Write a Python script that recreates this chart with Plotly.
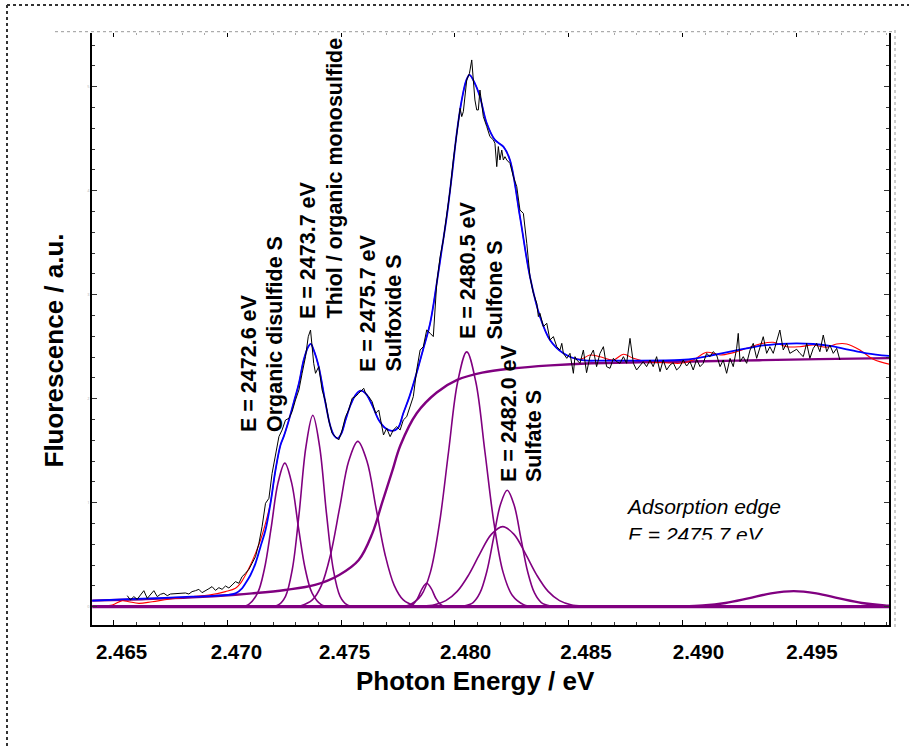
import plotly.graph_objects as go

# ---------------- data (energies in eV, intensities in a.u.) ----------------
data_E = [2465.59, 2465.73, 2465.88, 2466.03, 2466.17, 2466.32, 2466.47, 2466.61, 2466.76, 2466.91,
          2467.05, 2467.20, 2467.35, 2467.49, 2467.71, 2467.93, 2468.15, 2468.30, 2468.44, 2468.59,
          2468.74, 2468.88, 2469.03, 2469.18, 2469.32, 2469.47, 2469.62, 2469.76, 2469.91, 2470.06,
          2470.20, 2470.35, 2470.50, 2470.64, 2470.79, 2470.94, 2471.08, 2471.23, 2471.38, 2471.52,
          2471.67, 2471.82, 2471.96, 2472.11, 2472.26, 2472.40, 2472.55, 2472.70, 2472.84, 2472.99,
          2473.14, 2473.28, 2473.43, 2473.55, 2473.65, 2473.72, 2473.79, 2473.87, 2474.01, 2474.16,
          2474.31, 2474.45, 2474.60, 2474.75, 2474.89, 2474.97, 2475.04, 2475.19, 2475.33, 2475.48,
          2475.63, 2475.77, 2475.92, 2475.99, 2476.07, 2476.21, 2476.36, 2476.51, 2476.65, 2476.78,
          2476.86, 2477.00, 2477.15, 2477.29, 2477.44, 2477.59, 2477.73, 2477.88, 2478.03, 2478.17,
          2478.32, 2478.47, 2478.61, 2478.76, 2478.91, 2479.05, 2479.20, 2479.35, 2479.49, 2479.64,
          2479.79, 2479.93, 2480.08, 2480.23, 2480.30, 2480.37, 2480.52, 2480.64, 2480.74, 2480.81,
          2480.88, 2480.96, 2481.03, 2481.10, 2481.18, 2481.25, 2481.40, 2481.54, 2481.69, 2481.76,
          2481.84, 2481.91, 2481.98, 2482.06, 2482.13, 2482.20, 2482.28, 2482.42, 2482.57, 2482.72,
          2482.86, 2483.01, 2483.16, 2483.30, 2483.45, 2483.60, 2483.67, 2483.74, 2483.89, 2484.04,
          2484.18, 2484.33, 2484.48, 2484.62, 2484.70, 2484.77, 2484.92, 2485.06, 2485.21, 2485.28,
          2485.36, 2485.50, 2485.65, 2485.79, 2485.94, 2486.09, 2486.23, 2486.38, 2486.53, 2486.67,
          2486.82, 2486.97, 2487.11, 2487.26, 2487.41, 2487.55, 2487.70, 2487.85, 2487.99, 2488.14,
          2488.28, 2488.43, 2488.58, 2488.72, 2488.87, 2489.02, 2489.16, 2489.31, 2489.46, 2489.60,
          2489.75, 2489.90, 2490.04, 2490.19, 2490.34, 2490.48, 2490.63, 2490.78, 2490.92, 2491.07,
          2491.22, 2491.36, 2491.51, 2491.66, 2491.80, 2491.95, 2492.10, 2492.24, 2492.39, 2492.46,
          2492.54, 2492.68, 2492.83, 2492.98, 2493.12, 2493.27, 2493.41, 2493.56, 2493.71, 2493.85,
          2494.00, 2494.15, 2494.29, 2494.44, 2494.59, 2494.73, 2494.88, 2495.03, 2495.17, 2495.32,
          2495.47, 2495.61, 2495.76, 2495.91, 2496.05, 2496.20, 2496.35, 2496.49, 2496.64, 2496.79,
          2496.93]
data_I = [0.106, 0.065, 0.097, 0.071, 0.112, 0.154, 0.080, 0.112, 0.154, 0.097,
          0.119, 0.129, 0.106, 0.122, 0.125, 0.129, 0.132, 0.122, 0.145, 0.154,
          0.167, 0.135, 0.151, 0.173, 0.193, 0.157, 0.183, 0.167, 0.199, 0.180,
          0.209, 0.241, 0.225, 0.289, 0.321, 0.359, 0.417, 0.481, 0.609, 0.770,
          0.994, 1.042, 1.282, 1.443, 1.635, 1.699, 1.795, 1.811, 1.875, 1.988,
          2.084, 2.244, 2.404, 2.596, 2.660, 2.500, 2.340, 2.244, 2.308, 2.084,
          1.971, 1.795, 1.667, 1.635, 1.603, 1.651, 1.699, 1.827, 1.891, 2.004,
          2.020, 2.052, 2.084, 2.100, 2.052, 2.020, 1.971, 1.859, 1.891, 1.760,
          1.651, 1.715, 1.635, 1.699, 1.731, 1.699, 1.795, 1.827, 1.923, 2.020,
          2.276, 2.468, 2.500, 2.661, 2.629, 2.597, 3.109, 3.366, 3.526, 3.750,
          4.007, 4.295, 4.520, 4.792, 4.712, 4.760, 5.065, 5.129, 5.257, 5.032,
          4.872, 4.776, 4.776, 4.968, 4.840, 4.712, 4.616, 4.520, 4.488, 4.456,
          4.231, 4.424, 4.295, 4.391, 4.295, 4.327, 4.295, 4.263, 4.135, 4.039,
          3.814, 3.782, 3.494, 3.173, 3.013, 2.917, 2.789, 2.821, 2.693, 2.725,
          2.564, 2.597, 2.500, 2.468, 2.532, 2.436, 2.388, 2.436, 2.244, 2.404,
          2.372, 2.340, 2.468, 2.250, 2.404, 2.468, 2.308, 2.436, 2.500, 2.308,
          2.292, 2.388, 2.356, 2.340, 2.404, 2.340, 2.580, 2.340, 2.276, 2.324,
          2.356, 2.308, 2.372, 2.308, 2.404, 2.260, 2.372, 2.276, 2.324, 2.346,
          2.276, 2.308, 2.372, 2.314, 2.356, 2.276, 2.378, 2.308, 2.340, 2.436,
          2.404, 2.452, 2.420, 2.308, 2.372, 2.244, 2.388, 2.308, 2.484, 2.628,
          2.356, 2.404, 2.340, 2.468, 2.532, 2.388, 2.484, 2.596, 2.436, 2.500,
          2.436, 2.564, 2.660, 2.468, 2.532, 2.436, 2.452, 2.475, 2.436, 2.404,
          2.532, 2.388, 2.484, 2.532, 2.452, 2.612, 2.452, 2.516, 2.436, 2.484,
          2.372]

fit_E = [2464.05, 2466.25, 2468.44, 2469.91, 2470.35, 2470.64, 2470.79, 2471.01, 2471.23, 2471.45,
         2471.67, 2471.89, 2472.11, 2472.33, 2472.47, 2472.70, 2472.92, 2473.14, 2473.35, 2473.55,
         2473.66, 2473.79, 2474.01, 2474.31, 2474.53, 2474.70, 2474.85, 2475.01, 2475.19, 2475.41,
         2475.63, 2475.85, 2476.07, 2476.36, 2476.65, 2476.95, 2477.24, 2477.50, 2477.73, 2478.00,
         2478.32, 2478.61, 2478.91, 2479.20, 2479.42, 2479.64, 2479.86, 2480.08, 2480.30, 2480.50,
         2480.64, 2480.88, 2481.10, 2481.40, 2481.76, 2482.13, 2482.42, 2482.86, 2483.30, 2483.74,
         2484.18, 2484.77, 2485.50, 2486.50, 2487.70, 2489.90, 2490.63, 2491.36, 2492.10, 2492.83,
         2493.56, 2494.29, 2495.03, 2495.76, 2496.49, 2497.23, 2498.11, 2499.13]
fit_I = [0.058, 0.077, 0.096, 0.112, 0.128, 0.177, 0.225, 0.305, 0.417, 0.577,
         0.737, 0.994, 1.314, 1.555, 1.635, 1.795, 1.971, 2.148, 2.372, 2.500,
         2.526, 2.468, 2.308, 1.955, 1.731, 1.641, 1.619, 1.667, 1.795, 1.939,
         2.036, 2.077, 2.052, 1.939, 1.795, 1.715, 1.690, 1.720, 1.860, 2.020,
         2.250, 2.480, 2.725, 3.109, 3.430, 3.750, 4.135, 4.552, 4.872, 5.060,
         5.113, 5.030, 4.904, 4.648, 4.488, 4.423, 4.295, 3.750, 3.173, 2.789,
         2.564, 2.436, 2.372, 2.366, 2.366, 2.372, 2.388, 2.420, 2.452, 2.484,
         2.513, 2.526, 2.532, 2.526, 2.507, 2.475, 2.436, 2.410]

# second (red) fit: own start and end, shared middle with the blue fit
red_start_E = [2464.05, 2464.49, 2464.93, 2465.37, 2465.66, 2466.10, 2466.69, 2467.42, 2468.44, 2469.18,
               2469.91, 2470.35, 2470.57, 2470.79, 2471.01, 2471.23, 2471.45, 2471.67, 2471.89]
red_start_I = [0.007, 0.007, 0.016, 0.058, 0.048, 0.032, 0.048, 0.071, 0.096, 0.112,
               0.145, 0.177, 0.225, 0.305, 0.401, 0.513, 0.641, 0.801, 1.000]
red_end_E = [2485.50, 2485.94, 2486.38, 2486.97, 2487.41, 2487.85, 2488.43, 2489.31, 2489.90, 2490.48,
             2491.07, 2491.66, 2492.24, 2492.83, 2493.41, 2494.00, 2494.59, 2495.17, 2495.76, 2496.35,
             2496.79, 2497.23, 2497.81, 2498.40, 2499.13]
red_end_I = [2.378, 2.420, 2.404, 2.372, 2.427, 2.388, 2.356, 2.346, 2.340, 2.372,
             2.446, 2.420, 2.443, 2.484, 2.526, 2.542, 2.500, 2.500, 2.516, 2.494,
             2.526, 2.526, 2.468, 2.378, 2.330]

# absorption edge (step)
edge_E = [2464.05, 2466.25, 2468.44, 2470.35, 2471.08, 2472.53, 2473.85, 2474.91, 2475.77, 2476.36,
          2476.80, 2477.24, 2477.60, 2478.32, 2479.20, 2480.10, 2481.20, 2482.50, 2484.20, 2486.00,
          2488.10, 2491.00, 2493.40, 2496.00, 2499.10]
edge_I = [0.058, 0.072, 0.090, 0.115, 0.128, 0.161, 0.209, 0.305, 0.449, 0.700,
          1.000, 1.300, 1.550, 1.860, 2.060, 2.180, 2.250, 2.290, 2.320, 2.340,
          2.350, 2.360, 2.370, 2.380, 2.390]

baseline_E = [2464.05, 2499.10]
baseline_I = [0.0, 0.0]

# peak components
disulfide_E = [2470.52, 2470.92, 2471.32, 2471.62, 2471.92, 2472.22, 2472.52, 2472.82, 2473.12, 2473.42, 2473.72, 2474.12, 2474.52]
disulfide_I = [0.0, 0.02, 0.13, 0.36, 0.76, 1.19, 1.38, 1.19, 0.76, 0.36, 0.13, 0.02, 0.0]
thiol_E = [2471.85, 2472.25, 2472.55, 2472.85, 2473.15, 2473.45, 2473.75, 2474.05, 2474.35, 2474.65, 2474.95, 2475.25, 2475.65]
thiol_I = [0.0, 0.02, 0.10, 0.36, 0.90, 1.54, 1.84, 1.54, 0.90, 0.36, 0.10, 0.02, 0.0]
sulfoxide_E = [2472.73, 2473.23, 2473.73, 2474.13, 2474.53, 2474.93, 2475.33, 2475.73, 2476.13, 2476.53, 2476.93, 2477.33, 2477.73, 2478.23, 2478.73]
sulfoxide_I = [0.0, 0.01, 0.065, 0.205, 0.50, 0.95, 1.40, 1.59, 1.40, 0.95, 0.50, 0.205, 0.065, 0.01, 0.0]
small_E = [2477.91, 2478.16, 2478.36, 2478.56, 2478.76, 2478.96, 2479.16, 2479.36, 2479.61]
small_I = [0.0, 0.023, 0.081, 0.174, 0.225, 0.174, 0.081, 0.023, 0.0]
sulfone_E = [2477.52, 2478.02, 2478.52, 2478.92, 2479.32, 2479.72, 2480.12, 2480.52, 2480.92, 2481.32, 2481.72, 2482.12, 2482.52, 2483.02, 2483.52]
sulfone_I = [0.0, 0.02, 0.11, 0.33, 0.80, 1.49, 2.16, 2.45, 2.16, 1.49, 0.80, 0.33, 0.11, 0.02, 0.0]
sulfate_E = [2480.10, 2480.40, 2480.80, 2481.10, 2481.40, 2481.70, 2482.00, 2482.30, 2482.60, 2482.90, 2483.20, 2483.50, 2483.80, 2484.20, 2484.50]
sulfate_I = [0.0, 0.006, 0.04, 0.132, 0.336, 0.66, 0.98, 1.12, 0.98, 0.66, 0.336, 0.132, 0.04, 0.006, 0.0]
broad_E = [2477.90, 2478.50, 2479.10, 2479.60, 2480.10, 2480.60, 2481.10, 2481.60, 2482.10, 2482.60, 2483.10, 2483.60, 2484.10, 2484.60, 2485.10, 2485.70, 2486.30]
broad_I = [0.0, 0.004, 0.019, 0.058, 0.147, 0.304, 0.51, 0.695, 0.77, 0.695, 0.51, 0.304, 0.147, 0.058, 0.019, 0.004, 0.0]
high_E = [2488.90, 2489.90, 2490.90, 2491.90, 2492.90, 2493.90, 2494.90, 2495.90, 2496.90, 2497.90, 2498.90, 2499.10]
high_I = [0.0, 0.003, 0.012, 0.036, 0.080, 0.128, 0.150, 0.128, 0.080, 0.036, 0.012, 0.010]

x_tick_values = [2.465, 2.470, 2.475, 2.480, 2.485, 2.490, 2.495]
x_tick_labels = ["2.465", "2.470", "2.475", "2.480", "2.485", "2.490", "2.495"]
y_tick_values = [0, 1, 2, 3, 4, 5]
y_tick_labels = ["0", "1", "2", "3", "4", "5"]

peak_labels = [("E = 2472.6 eV", "Organic disulfide S"),
               ("E = 2473.7 eV", "Thiol / organic monosulfide"),
               ("E = 2475.7 eV", "Sulfoxide S"),
               ("E = 2480.5 eV", "Sulfone S"),
               ("E = 2482.0 eV", "Sulfate S")]
edge_label = ["Adsorption edge", "E = 2475.7 eV"]

# ---------------- layout constants (pixels in the 909x747 page) ----------------
W, H = 909, 747
L, R, T, B = 92, 889, 33, 625
XR = [2.46404, 2.49909]
YR = [-0.176, 5.516]
label_shift = [0.00034, 0.00039, 0.00015, 0.00047, 0.00076, 0.00071, 0.00070]  # keV, label offsets
peak_label_px = [((249, 275), 434), ((308, 334), 321), ((368, 393), 374), ((468, 494), 341), ((509, 534), 484)]
edge_label_pos = ([2.48761, 2.48761], [0.945, 0.672])

def px(x):
    return (x - L) / (R - L)

def py(y):
    return (B - y) / (B - T)

def kev(e):
    return [v / 1000.0 for v in e]

PURPLE = "#800080"
FONT = "Liberation Sans, Arial, Helvetica, sans-serif"

fig = go.Figure()

comps = [(disulfide_E, disulfide_I), (thiol_E, thiol_I), (sulfoxide_E, sulfoxide_I), (small_E, small_I),
         (sulfone_E, sulfone_I), (sulfate_E, sulfate_I), (broad_E, broad_I)]
for e, v in comps:
    fig.add_trace(go.Scatter(x=kev(e), y=v, mode="lines",
                             line=dict(color=PURPLE, width=1.6, shape="spline", smoothing=1.0)))
fig.add_trace(go.Scatter(x=kev(edge_E), y=edge_I, mode="lines",
                         line=dict(color=PURPLE, width=2.4, shape="spline", smoothing=1.0)))

mid = [(e, v) for e, v in zip(fit_E, fit_I) if red_start_E[-1] < e < red_end_E[0]]
red_E = red_start_E + [m[0] for m in mid] + red_end_E
red_I = red_start_I + [m[1] for m in mid] + red_end_I
fig.add_trace(go.Scatter(x=kev(red_E), y=red_I, mode="lines",
                         line=dict(color="#ff0000", width=1.1, shape="spline", smoothing=1.0)))
fig.add_trace(go.Scatter(x=kev(fit_E), y=fit_I, mode="lines",
                         line=dict(color="#0000ff", width=1.8, shape="spline", smoothing=1.0)))

# italic edge label as text marks
fig.add_trace(go.Scatter(x=edge_label_pos[0], y=edge_label_pos[1], mode="text",
                         text=edge_label, textposition="middle right",
                         textfont=dict(family=FONT, size=21, style="italic", color="black")))

# traces living on the overlay axes (same ranges) so that those axes are drawn
fig.add_trace(go.Scatter(x=kev(baseline_E), y=baseline_I, mode="lines", xaxis="x2", yaxis="y",
                         line=dict(color=PURPLE, width=3.2)))
fig.add_trace(go.Scatter(x=kev(high_E), y=high_I, mode="lines", xaxis="x3", yaxis="y",
                         line=dict(color=PURPLE, width=2.4, shape="spline", smoothing=1.0)))
fig.add_trace(go.Scatter(x=kev(data_E), y=data_I, mode="lines", xaxis="x", yaxis="y2",
                         line=dict(color="#000000", width=1.0)))

for t in fig.data:
    t.showlegend = False
    t.hoverinfo = "skip"

ax_common = dict(range=XR, showgrid=False, zeroline=False)
fig.update_layout(
    width=W, height=H,
    margin=dict(l=L, r=W - R, t=T, b=H - B, pad=0),
    paper_bgcolor="white", plot_bgcolor="white",
    showlegend=False,
    xaxis=dict(**ax_common, showline=True, linecolor="black", linewidth=1.5,
               ticks="inside", tickvals=x_tick_values, ticklen=5, tickcolor="black", tickwidth=1,
               minor=dict(ticks="inside", dtick=0.001, tick0=2.465, ticklen=3, tickcolor="#333"),
               showticklabels=False),
    xaxis2=dict(**ax_common, overlaying="x", side="top", anchor="y", showline=False,
                ticks="inside", tickvals=x_tick_values, ticklen=4, tickcolor="black",
                minor=dict(ticks="inside", dtick=0.001, tick0=2.465, ticklen=2, tickcolor="#aaaaaa"),
                showticklabels=False),
    xaxis3=dict(**ax_common, overlaying="x", side="bottom", anchor="y", showline=False, ticks="",
                tickvals=[v + s for v, s in zip(x_tick_values, label_shift)], ticktext=x_tick_labels,
                tickfont=dict(family=FONT, size=20.5, color="black", weight="bold"),
                ticklabelstandoff=12),
    yaxis=dict(range=YR, showgrid=False, zeroline=False, showline=True, linecolor="black", linewidth=1.5,
               ticks="inside", tickvals=y_tick_values, ticktext=y_tick_labels, ticklen=5, tickcolor="#333",
               minor=dict(ticks="inside", dtick=0.2, tick0=0, ticklen=3, tickcolor="#333"),
               tickfont=dict(size=4, color="#b0b0b0")),
    yaxis2=dict(range=YR, overlaying="y", side="right", anchor="x", showgrid=False, zeroline=False,
                showline=True, linecolor="black", linewidth=1.5,
                ticks="inside", tickvals=y_tick_values, ticklen=5, tickcolor="#333",
                minor=dict(ticks="inside", dtick=0.2, tick0=0, ticklen=3, tickcolor="#333"),
                showticklabels=False),
)

# frame and dotted guide lines
shapes = [
    dict(type="line", xref="paper", yref="paper", x0=px(7), x1=px(915), y0=py(5), y1=py(5),
         line=dict(color="#333", width=2, dash="dot")),
    dict(type="line", xref="paper", yref="paper", x0=px(7), x1=px(7), y0=py(5), y1=py(755),
         line=dict(color="#333", width=2, dash="dot")),
    dict(type="line", xref="paper", yref="paper", x0=px(55), x1=px(893), y0=py(31.7), y1=py(31.7),
         line=dict(color="#999", width=1, dash="dot")),
    dict(type="line", xref="paper", yref="paper", x0=px(895), x1=px(895), y0=py(30), y1=py(627),
         line=dict(color="#999", width=1, dash="dot")),
    # clip of the lower edge label line
    dict(type="rect", xref="paper", yref="paper", x0=px(622), x1=px(775), y0=py(539.5), y1=py(552),
         fillcolor="white", line=dict(width=0), layer="above"),
]
fig.update_layout(shapes=shapes)

ann = []
for (e_line, name), ((xa, xb), yb) in zip(peak_labels, peak_label_px):
    for txt, xx in ((e_line, xa), (name, xb)):
        ann.append(dict(text=txt, xref="paper", yref="paper", x=px(xx), y=py(yb),
                        xanchor="center", yanchor="bottom", textangle=-90, showarrow=False,
                        font=dict(family=FONT, size=21.5, color="black", weight="bold")))
ann.append(dict(text="Photon Energy / eV", xref="paper", yref="paper", x=px(475), y=py(681),
                xanchor="center", yanchor="middle", showarrow=False,
                font=dict(family=FONT, size=26, color="black", weight="bold")))
ann.append(dict(text="Fluorescence / a.u.", xref="paper", yref="paper", x=px(53), y=py(350.5),
                xanchor="center", yanchor="middle", textangle=-90, showarrow=False,
                font=dict(family=FONT, size=26, color="black", weight="bold")))
fig.update_layout(annotations=ann)

fig.write_html("out.html", config={"displayModeBar": False},
               post_script="document.body.style.margin='0px';")
